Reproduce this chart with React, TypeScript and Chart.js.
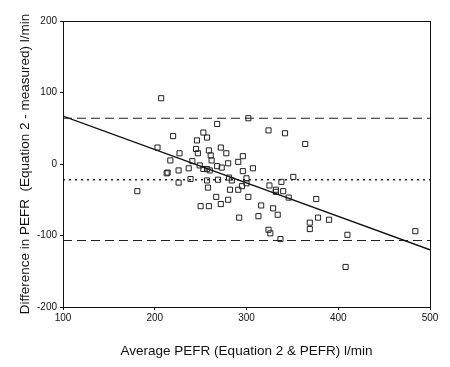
import React, { useEffect, useRef } from "react";
import { Chart, registerables } from "chart.js";

Chart.register(...registerables);

// Average PEFR (Equation 2 & PEFR) l/min
const avgPEFR: number[] = [
  207, 302, 268, 324, 342, 253, 220, 257, 246, 203, 272, 245, 259, 227, 278, 247,
  261, 296, 217, 241, 262, 291, 280, 249, 268, 273, 237, 253, 257, 260, 307, 226,
  296, 213, 214, 239, 257, 269, 281, 300, 300, 226, 284, 181, 258, 282, 291, 295,
  325, 338, 332, 332, 340, 267, 302, 280, 346, 250, 259, 272, 316, 329, 292, 313,
  334, 324, 326, 337, 364, 351, 376, 378, 369, 390, 369, 410, 484, 408,
];
// Difference in PEFR (Equation 2 - measured) l/min
const diffPEFR: number[] = [
  92, 64, 56, 47, 43, 44, 39, 37, 33, 23, 23, 21, 19, 15, 15, 15,
  12, 11, 5, 4, 5, 3, 1, -2, -3, -5, -6, -7, -7, -9, -6, -9,
  -10, -13, -12, -21, -23, -22, -19, -20, -27, -26, -23, -38, -33, -36, -36, -31,
  -30, -25, -36, -39, -38, -46, -46, -50, -47, -59, -59, -56, -58, -62, -75, -73,
  -71, -92, -97, -105, 28, -18, -49, -75, -82, -78, -91, -99, -94, -144,
];

const lineX: number[] = [100, 500];
const regressionY: number[] = [67, -120];
const upperLimit = 64;
const meanDiff = -22;
const lowerLimit = -107;

const xTicks: number[] = [100, 200, 300, 400, 500];
const yTicks: number[] = [-200, -100, 0, 100, 200];

const FONT = 'Arial, "Liberation Sans", sans-serif';

export default function App() {
  const ref = useRef<HTMLCanvasElement | null>(null);

  useEffect(() => {
    document.body.style.margin = "0";
    const canvas = ref.current;
    if (!canvas) return;

    const hLine = (v: number) => lineX.map((x) => ({ x, y: v }));

    const boxPlugin = {
      id: "box",
      afterDatasetsDraw(chart: any) {
        const { ctx, chartArea } = chart;
        ctx.save();
        ctx.strokeStyle = "#111";
        ctx.lineWidth = 1;
        ctx.strokeRect(
          Math.round(chartArea.left) + 0.5,
          Math.round(chartArea.top) + 0.5,
          Math.round(chartArea.right - chartArea.left),
          Math.round(chartArea.bottom - chartArea.top)
        );
        ctx.restore();
      },
    };

    const chart = new Chart(canvas, {
      type: "scatter",
      data: {
        datasets: [
          {
            label: "Regression",
            data: lineX.map((x, i) => ({ x, y: regressionY[i] })),
            showLine: true,
            borderColor: "#111",
            borderWidth: 1.3,
            pointRadius: 0,
          },
          {
            label: "Upper limit",
            data: hLine(upperLimit),
            showLine: true,
            borderColor: "#222",
            borderWidth: 1.1,
            borderDash: [9, 5],
            pointRadius: 0,
          },
          {
            label: "Mean",
            data: hLine(meanDiff),
            showLine: true,
            borderColor: "#222",
            borderWidth: 1.3,
            borderDash: [2, 4],
            pointRadius: 0,
          },
          {
            label: "Lower limit",
            data: hLine(lowerLimit),
            showLine: true,
            borderColor: "#222",
            borderWidth: 1.1,
            borderDash: [9, 5],
            pointRadius: 0,
          },
          {
            label: "Points",
            data: avgPEFR.map((x, i) => ({ x, y: diffPEFR[i] })),
            pointStyle: "rect",
            pointRadius: 3.6,
            pointBorderWidth: 1,
            pointBorderColor: "#222",
            pointBackgroundColor: "rgba(255,255,255,0)",
            showLine: false,
          },
        ],
      },
      options: {
        responsive: false,
        animation: false,
        layout: { padding: { top: 21, right: 20, left: 0, bottom: 0 } },
        plugins: {
          legend: { display: false },
          tooltip: { enabled: false },
        },
        scales: {
          x: {
            type: "linear",
            min: 100,
            max: 500,
            afterFit: (s: any) => {
              s.height = 60;
            },
            afterBuildTicks: (s: any) => {
              s.ticks = xTicks.map((v) => ({ value: v }));
            },
            grid: {
              display: true,
              drawOnChartArea: false,
              drawTicks: true,
              tickLength: 3,
              color: "#111",
            },
            border: { display: true, color: "#111", width: 1 },
            ticks: {
              color: "#111",
              padding: 2,
              maxRotation: 0,
              font: { family: FONT, size: 10 },
            },
            title: {
              display: true,
              text: "Average PEFR (Equation 2 & PEFR) l/min",
              color: "#111",
              font: { family: FONT, size: 13.5 },
              padding: { top: 0, bottom: 8 },
            },
          },
          y: {
            type: "linear",
            min: -200,
            max: 200,
            afterFit: (s: any) => {
              s.width = 63;
            },
            afterBuildTicks: (s: any) => {
              s.ticks = yTicks.map((v) => ({ value: v }));
            },
            grid: {
              display: true,
              drawOnChartArea: false,
              drawTicks: true,
              tickLength: 3,
              color: "#111",
            },
            border: { display: true, color: "#111", width: 1 },
            ticks: {
              color: "#111",
              padding: 3,
              font: { family: FONT, size: 10 },
            },
            title: {
              display: true,
              text: "Difference in PEFR  (Equation 2 - measured) l/min",
              color: "#111",
              font: { family: FONT, size: 13.5 },
              padding: { top: 17, bottom: 0 },
            },
          },
        },
      },
      plugins: [boxPlugin],
    });

    return () => chart.destroy();
  }, []);

  return (
    <div style={{ position: "absolute", left: 0, top: 0, width: 450, height: 367, background: "#fff" }}>
      <canvas ref={ref} width={450} height={367} style={{ width: 450, height: 367, display: "block" }} />
    </div>
  );
}
